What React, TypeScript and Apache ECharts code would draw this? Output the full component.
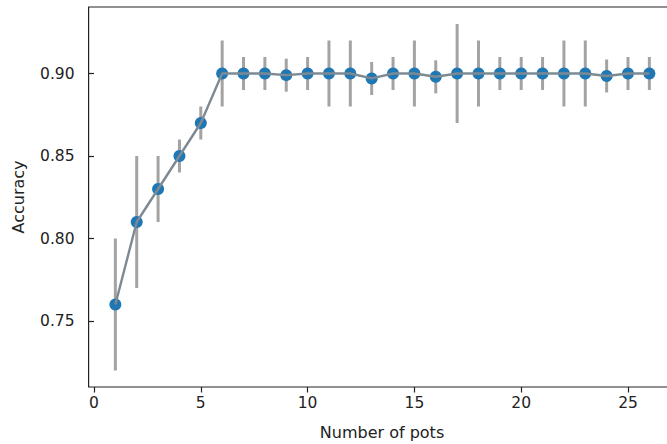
import React, { useEffect, useRef } from "react";
import * as echarts from "echarts";

const numPots = [1, 2, 3, 4, 5, 6, 7, 8, 9, 10, 11, 12, 13, 14, 15, 16, 17, 18, 19, 20, 21, 22, 23, 24, 25, 26];
const accuracy = [0.76, 0.81, 0.83, 0.85, 0.87, 0.9, 0.9, 0.9, 0.899, 0.9, 0.9, 0.9, 0.897, 0.9, 0.9, 0.898, 0.9, 0.9, 0.9, 0.9, 0.9, 0.9, 0.9, 0.8985, 0.9, 0.9];
const accuracyErr = [0.04, 0.04, 0.02, 0.01, 0.01, 0.02, 0.01, 0.01, 0.01, 0.01, 0.02, 0.02, 0.01, 0.01, 0.02, 0.01, 0.03, 0.02, 0.01, 0.01, 0.01, 0.02, 0.02, 0.01, 0.01, 0.01];
const xTickLabels = ["0", "5", "10", "15", "20", "25"];
const xTitle = "Number of pots";
const yTitle = "Accuracy";

const FONT = "DejaVu Sans";
const TEXT = "#222";

export default function App() {
  const ref = useRef<HTMLDivElement>(null);
  useEffect(() => {
    if (!ref.current) return;
    const chart = echarts.init(ref.current, null, { renderer: "svg" });
    const points = numPots.map((x, i) => [x, accuracy[i]]);
    const bars = numPots.map((x, i) => [x, accuracy[i] - accuracyErr[i], accuracy[i] + accuracyErr[i]]);
    chart.setOption({
      animation: false,
      backgroundColor: "#fff",
      grid: { left: 94, top: 73.5, width: 640.8, height: 247.5, containLabel: false },
      xAxis: {
        type: "value",
        min: 0,
        max: 30,
        interval: 5,
        offset: 66,
        axisLine: { show: false },
        axisTick: { show: true, length: 5.5, lineStyle: { color: TEXT, width: 1.2 } },
        axisLabel: {
          fontFamily: FONT,
          fontSize: 15.5,
          color: TEXT,
          margin: 8,
          formatter: (v: number) => (xTickLabels.includes(String(v)) ? String(v) : ""),
        },
        splitLine: { show: false },
      },
      yAxis: {
        type: "value",
        min: 0.75,
        max: 0.9,
        interval: 0.05,
        offset: 5.4,
        axisLine: { show: false },
        axisTick: { show: true, length: 5.5, lineStyle: { color: TEXT, width: 1.2 } },
        axisLabel: {
          fontFamily: FONT,
          fontSize: 15.5,
          color: TEXT,
          margin: 14,
          formatter: (v: number) => v.toFixed(2),
        },
        splitLine: { show: false },
      },
      graphic: [
        {
          type: "rect",
          shape: { x: 88.6, y: 7, width: 588, height: 380 },
          style: { fill: "none", stroke: TEXT, lineWidth: 1.2 },
          silent: true,
        },
        {
          type: "text",
          x: 382,
          y: 432,
          style: {
            text: xTitle,
            fontFamily: FONT,
            fontSize: 16,
            fill: TEXT,
            align: "center",
            verticalAlign: "middle",
            textAlign: "center",
            textVerticalAlign: "middle",
          },
        },
        {
          type: "text",
          x: 18.5,
          y: 197,
          rotation: Math.PI / 2,
          style: {
            text: yTitle,
            fontFamily: FONT,
            fontSize: 16,
            fill: TEXT,
            align: "center",
            verticalAlign: "middle",
            textAlign: "center",
            textVerticalAlign: "middle",
          },
        },
      ],
      series: [
        {
          type: "custom",
          clip: false,
          z: 1,
          data: bars,
          encode: { x: 0, y: [1, 2] },
          renderItem: (_params: any, api: any) => {
            const x = api.value(0);
            const p1 = api.coord([x, api.value(1)]);
            const p2 = api.coord([x, api.value(2)]);
            return {
              type: "line",
              shape: { x1: p1[0], y1: p1[1], x2: p2[0], y2: p2[1] },
              style: { stroke: "#a3a3a3", lineWidth: 3 },
            };
          },
        },
        {
          type: "scatter",
          clip: false,
          z: 2,
          data: points,
          symbol: "circle",
          symbolSize: 12,
          itemStyle: { color: "#1f77b4", opacity: 1 },
        },
        {
          type: "line",
          clip: false,
          z: 3,
          data: points,
          symbol: "none",
          showSymbol: false,
          lineStyle: { color: "#7d8a94", width: 2.4 },
        },
      ],
    });
    return () => chart.dispose();
  }, []);
  return (
    <div style={{ position: "fixed", left: 0, top: 0, width: 667, height: 444, overflow: "hidden", background: "#fff" }}>
      <div ref={ref} style={{ width: 760, height: 444 }} />
    </div>
  );
}
